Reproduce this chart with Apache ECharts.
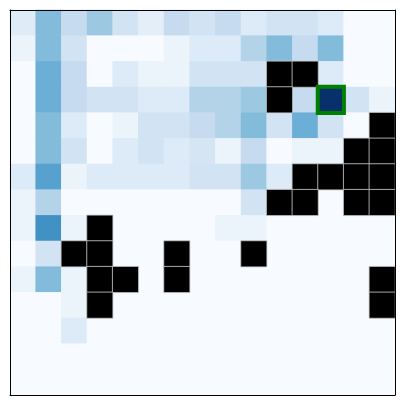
<!DOCTYPE html>
<html><head><meta charset="utf-8">
<script src="https://cdn.jsdelivr.net/npm/echarts@6/dist/echarts.min.js"></script>
<style>html,body{margin:0;padding:0;background:#fff}#c{width:405px;height:405px}</style>
</head><body><div id="c"></div>
<script>
// null = masked (black) cell
const xCats = ['0','1','2','3','4','5','6','7','8','9','10','11','12','13','14'];
const yCats = ['0','1','2','3','4','5','6','7','8','9','10','11','12','13','14'];
const row0  = [0.12,0.44,0.25,0.38,0.19,0.10,0.25,0.19,0.25,0.13,0.19,0.19,0.13,0,0];
const row1  = [0.06,0.44,0.19,0,0,0,0.06,0.13,0.13,0.31,0.44,0.25,0.44,0,0];
const row2  = [0,0.50,0.25,0,0.13,0.06,0.06,0.19,0.19,0.19,null,null,0.13,0,0];
const row3  = [0,0.50,0.25,0.19,0.19,0.13,0.13,0.31,0.31,0.38,null,0.25,1.0,0.19,0.06];
const row4  = [0,0.44,0.13,0,0.06,0.19,0.19,0.25,0.31,0.44,0.19,0.50,0.19,0,null];
const row5  = [0,0.44,0.19,0,0.13,0.19,0.13,0.17,0.06,0.25,0,0.06,0.06,null,null];
const row6  = [0.13,0.56,0.06,0.13,0.13,0.13,0.13,0.19,0.19,0.38,0.13,null,null,null,null];
const row7  = [0.06,0.31,0,0,0,0,0,0,0,0.19,null,null,0,null,null];
const row8  = [0.06,0.63,0.06,null,0,0,0,0,0.06,0.06,0,0,0,0,0];
const row9  = [0,0.19,null,null,0,0,null,0,0,null,0,0,0,0,0];
const row10 = [0.06,0.44,0.06,null,null,0,null,0,0,0,0,0,0,0,null];
const row11 = [0,0,0.06,null,0,0,0,0,0,0,0,0,0,0,null];
const row12 = [0,0,0.13,0,0,0,0,0,0,0,0,0,0,0,0];
const row13 = [0,0,0,0,0,0,0,0,0,0,0,0,0,0,0];
const row14 = [0,0,0,0,0,0,0,0,0,0,0,0,0,0,0];
const highlight = [12, 3];

const rows = [row0,row1,row2,row3,row4,row5,row6,row7,row8,row9,row10,row11,row12,row13,row14];
const valData = [], maskData = [];
rows.forEach((r, y) => r.forEach((v, x) => {
  if (v === null) maskData.push([x, y, 1]); else valData.push([x, y, v]);
}));

const blues = ['#f7fbff','#deebf7','#c6dbef','#9ecae1','#6baed6','#4292c6','#2171b5','#08519c','#08306b'];
const axLine = {show:true, lineStyle:{color:'#000', width:1}};
const chart = echarts.init(document.getElementById('c'), null, {renderer:'canvas'});
chart.setOption({
  animation:false,
  grid:{left:10, top:10, width:385, height:385},
  xAxis:[
    {type:'category', data:xCats, position:'bottom', axisLine:axLine, axisTick:{show:false}, axisLabel:{show:false}, splitLine:{show:false}, z:10},
    {type:'category', data:xCats, position:'top', axisLine:axLine, axisTick:{show:false}, axisLabel:{show:false}, splitLine:{show:false}, z:10}
  ],
  yAxis:[
    {type:'category', data:yCats, inverse:true, position:'left', axisLine:axLine, axisTick:{show:false}, axisLabel:{show:false}, splitLine:{show:false}, z:10},
    {type:'category', data:yCats, inverse:true, position:'right', axisLine:axLine, axisTick:{show:false}, axisLabel:{show:false}, splitLine:{show:false}, z:10}
  ],
  visualMap:{show:false, min:0, max:1, seriesIndex:0, inRange:{color:blues}},
  series:[
    {type:'heatmap', data:valData, itemStyle:{borderWidth:0}, emphasis:{disabled:true}},
    {type:'heatmap', data:maskData, itemStyle:{color:'#000', borderColor:'#c8c8c8', borderWidth:0.8}, emphasis:{disabled:true}},
    {type:'heatmap', data:[[highlight[0], highlight[1], 1]], itemStyle:{color:'rgba(0,0,0,0)', borderColor:'#008000', borderWidth:4}, emphasis:{disabled:true}}
  ]
});
</script></body></html>
